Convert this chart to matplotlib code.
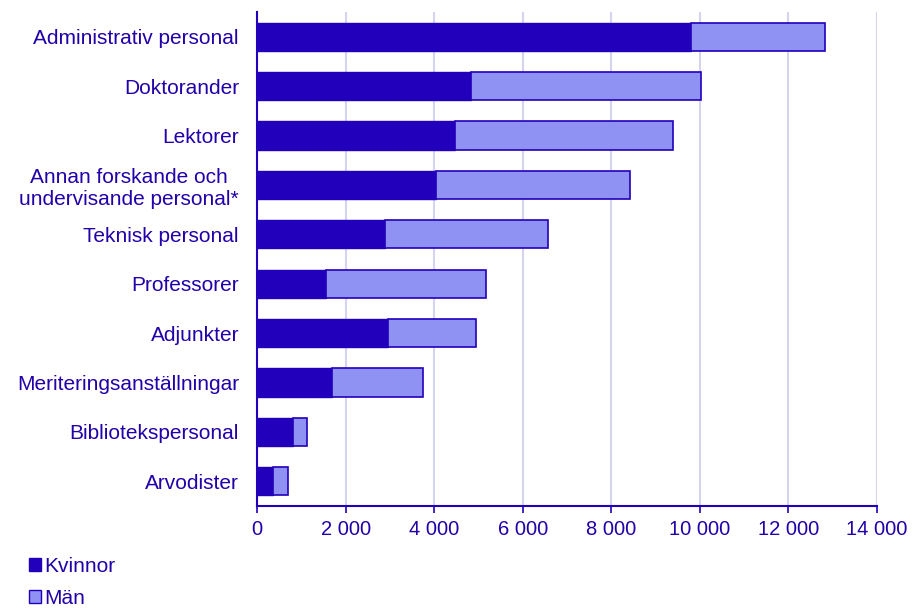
import matplotlib.pyplot as plt
from matplotlib.patches import Patch
from matplotlib.ticker import FuncFormatter
import numpy as np

categories = ['Administrativ personal', 'Doktorander', 'Lektorer',
              'Annan forskande och\nundervisande personal*', 'Teknisk personal',
              'Professorer', 'Adjunkter', 'Meriteringsanställningar',
              'Bibliotekspersonal', 'Arvodister']
kvinnor = [9800, 4830, 4470, 4040, 2890, 1560, 2950, 1690, 810, 350]
man = [3030, 5200, 4920, 4380, 3680, 3610, 1995, 2060, 320, 340]

dark = '#2200BB'
light = '#8F91F3'
text_color = '#2200AA'

plt.rcParams['font.family'] = ['Liberation Sans', 'DejaVu Sans']

fig = plt.figure(figsize=(9.17, 6.08), dpi=100)
ax = fig.add_axes([0.2803, 0.1678, 0.6761, 0.8125])

y = np.arange(len(categories))
ax.barh(y, kvinnor, height=0.57, color=dark, edgecolor=dark, linewidth=1, zorder=3)
ax.barh(y, man, left=kvinnor, height=0.57, color=light, edgecolor=dark, linewidth=1.2, zorder=3)

ax.set_ylim(len(categories) - 0.5, -0.5)
ax.set_xlim(0, 14000)
ax.set_yticks(y)
ax.set_yticklabels(categories, fontsize=15, color=text_color, linespacing=1.2,
                   multialignment='center')
ax.set_xticks(np.arange(0, 14001, 2000))
ax.xaxis.set_major_formatter(FuncFormatter(lambda v, p: f'{int(v):,}'.replace(',', ' ')))
ax.tick_params(axis='x', colors=dark, labelcolor=text_color, labelsize=14.5,
               length=5, width=1.2, pad=5)
ax.tick_params(axis='y', length=0, pad=13)

ax.grid(axis='x', color='#D4D4F0', linewidth=1.5, zorder=0)
for s in ['top', 'right']:
    ax.spines[s].set_visible(False)
for s in ['left', 'bottom']:
    ax.spines[s].set_color(dark)
    ax.spines[s].set_linewidth(1.5)

handles = [Patch(facecolor=dark, edgecolor=dark, label='Kvinnor'),
           Patch(facecolor=light, edgecolor=dark, label='Män')]
leg = fig.legend(handles=handles, loc='lower left', bbox_to_anchor=(0.016, -0.024),
                 frameon=False, fontsize=15, handlelength=0.55, handleheight=0.55,
                 handletextpad=0.15, labelspacing=0.62, borderpad=0.2)
for t in leg.get_texts():
    t.set_color(text_color)

fig.savefig('out.png', dpi=100)
